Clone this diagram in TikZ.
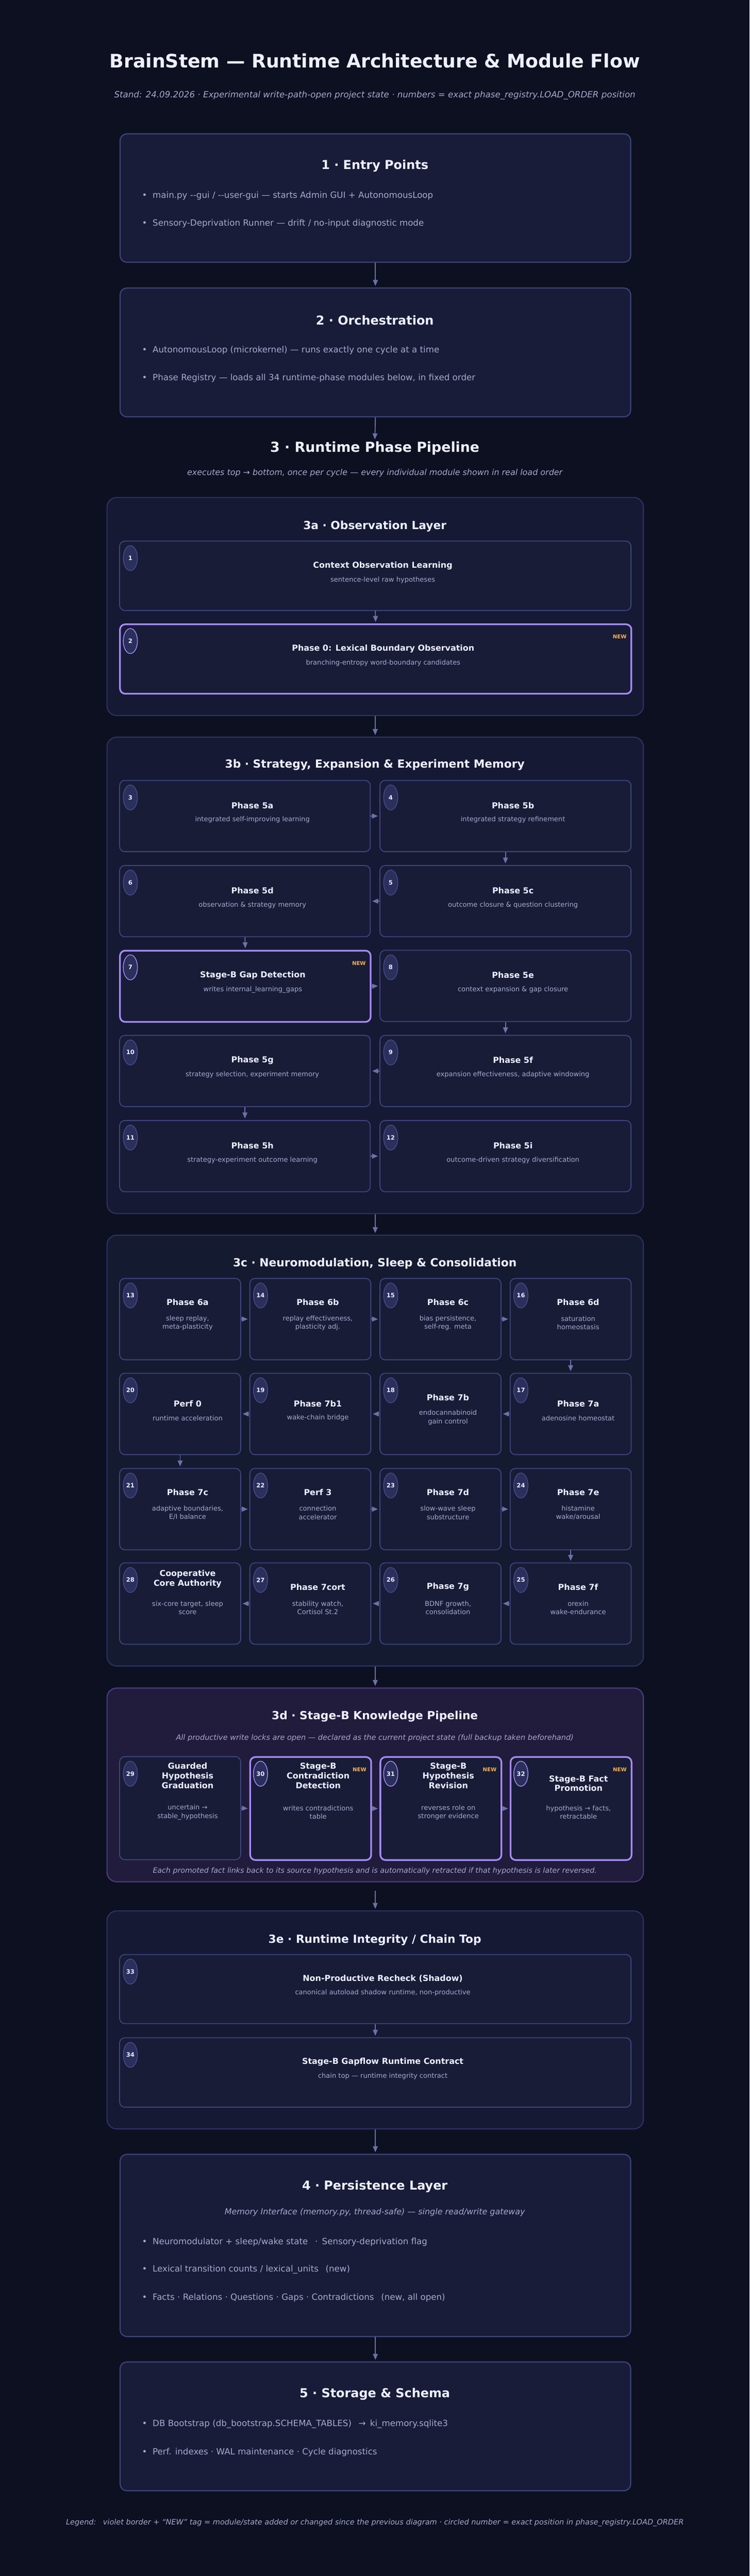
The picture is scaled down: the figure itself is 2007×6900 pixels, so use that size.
\documentclass[tikz,border=0pt]{standalone}
\usepackage{fontspec}
\setmainfont{DejaVu Sans}
\usetikzlibrary{arrows.meta,shapes.geometric}

\definecolor{bgc}{HTML}{0C1021}
\definecolor{secfill}{HTML}{181C38}
\definecolor{secline}{HTML}{3D4479}
\definecolor{contfill}{HTML}{151934}
\definecolor{contline}{HTML}{2C3163}
\definecolor{neurofill}{HTML}{141A30}
\definecolor{kfill}{HTML}{211B3C}
\definecolor{kline}{HTML}{4B3C82}
\definecolor{boxfill}{HTML}{181C37}
\definecolor{boxline}{HTML}{3E457E}
\definecolor{violetc}{HTML}{A78BFA}
\definecolor{badgefill}{HTML}{2A2F5C}
\definecolor{badgeline}{HTML}{454C88}
\definecolor{titlec}{HTML}{EEF0FF}
\definecolor{subc}{HTML}{A6ABCF}
\definecolor{newc}{HTML}{FBB04A}
\definecolor{arrowc}{HTML}{6B72A8}

\newcommand\bsMain{\bfseries\fontsize{50}{60}\selectfont}
\newcommand\bsSec{\bfseries\fontsize{33}{40}\selectfont}
\newcommand\bsHead{\bfseries\fontsize{37}{44}\selectfont}
\newcommand\bsCont{\bfseries\fontsize{30}{36}\selectfont}
\newcommand\bsBox{\bfseries\fontsize{22}{26}\selectfont}
\newcommand\bsSub{\fontsize{18}{23}\selectfont}
\newcommand\bsBul{\fontsize{23}{28}\selectfont}
\newcommand\bsItal{\itshape\fontsize{23}{28}\selectfont}
\newcommand\bsItalM{\itshape\fontsize{22}{27}\selectfont}
\newcommand\bsItalS{\itshape\fontsize{20}{24}\selectfont}
\newcommand\bsNum{\bfseries\fontsize{16}{19}\selectfont}
\newcommand\bsNew{\bfseries\fontsize{14}{17}\selectfont}

\tikzset{
  secbox/.style={draw=secline, line width=3pt, fill=secfill, rounded corners=18pt, inner sep=0pt, anchor=north west},
  contbox/.style={draw=contline, line width=3pt, fill=contfill, rounded corners=26pt, inner sep=0pt, anchor=north west},
  neurobox/.style={contbox, fill=neurofill},
  kbox/.style={contbox, draw=kline, fill=kfill},
  pbox/.style={draw=boxline, line width=2.5pt, fill=boxfill, rounded corners=14pt, inner sep=0pt, anchor=north west},
  vbox/.style={pbox, draw=violetc, line width=4.5pt},
  badge/.style={ellipse, draw=badgeline, line width=2pt, fill=badgefill, minimum width=38pt, minimum height=67pt, inner sep=0pt, text=titlec, font=\bsNum},
  vbadge/.style={badge, draw=violetc},
  ttl/.style={text=titlec, font=\bsBox, align=center, inner sep=0pt},
  subtxt/.style={text=subc, font=\bsSub, align=center, inner sep=0pt},
  newtag/.style={text=newc, font=\bsNew, anchor=east, inner sep=0pt},
  bul/.style={text=subc, font=\bsBul, anchor=west, inner sep=0pt},
  sectitle/.style={text=titlec, font=\bsSec, inner sep=0pt},
  conttitle/.style={text=titlec, font=\bsCont, inner sep=0pt},
  itnote/.style={text=subc, font=\bsItal, inner sep=0pt},
  itnotem/.style={text=subc, font=\bsItalM, inner sep=0pt},
  itnotes/.style={text=subc, font=\bsItalS, inner sep=0pt},
  flow/.style={draw=arrowc, line width=2.5pt, shorten >=4pt, -{Triangle[length=16pt,width=13pt]}},
}

\newcommand\mkbox[6]{\node[#2, minimum width=#5pt, minimum height=#6pt] (#1) at (#3,#4) {};}
\newcommand\mkbadge[3]{\node[#3] (#1n) at ([xshift=30pt,yshift=-47pt]#1.north west) {#2};}
\newcommand\mkttl[3]{\node[ttl] (#1t) at ([xshift=20pt,yshift=-#2pt]#1.north) {#3};}
\newcommand\mksub[3]{\node[subtxt] (#1s) at ([xshift=20pt,yshift=-#2pt]#1.north) {#3};}
\newcommand\mknew[1]{\node[newtag] (#1w) at ([xshift=-15pt,yshift=-36pt]#1.north east) {NEW};}

\begin{document}
\begin{tikzpicture}[x=1pt,y=-1pt]
\fill[bgc] (0,0) rectangle (2007,6900);
\useasboundingbox (0,0) rectangle (2007,6900);

% ---------- header ----------
\node[text=titlec, font=\bsMain, inner sep=0pt] (title) at (1003.5,163) {BrainStem — Runtime Architecture \& Module Flow};
\node[itnote] (subtitle) at (1003.5,255) {Stand: 24.09.2026 · Experimental write-path-open project state · numbers = exact phase\_registry.LOAD\_ORDER position};

% ---------- 1 ----------
\mkbox{s1}{secbox}{320}{357}{1367}{344}
\node[sectitle] (s1t) at (1003.5,445) {1 · Entry Points};
\node[bul] (s1a) at (380,524) {•\hskip15pt main.py -{}-gui / -{}-user-gui — starts Admin GUI + AutonomousLoop};
\node[bul] (s1b) at (380,599) {•\hskip15pt Sensory-Deprivation Runner — drift / no-input diagnostic mode};

% ---------- 2 ----------
\mkbox{s2}{secbox}{320}{770}{1367}{345}
\node[sectitle] (s2t) at (1003.5,858) {2 · Orchestration};
\node[bul] (s2a) at (380,938) {•\hskip15pt AutonomousLoop (microkernel) — runs exactly one cycle at a time};
\node[bul] (s2b) at (380,1013) {•\hskip15pt Phase Registry — loads all 34 runtime-phase modules below, in fixed order};

% ---------- 3 heading ----------
\coordinate (h3in) at (1003.5,1181);
\node[text=titlec, font=\bsHead, inner sep=0pt] (h3) at (1003.5,1201) {3 · Runtime Phase Pipeline};
\node[itnotem] (h3s) at (1003.5,1267) {executes top → bottom, once per cycle — every individual module shown in real load order};

% ---------- 3a ----------
\mkbox{c3a}{contbox}{285}{1331}{1436}{584}
\node[conttitle] (c3at) at (1003.5,1410) {3a · Observation Layer};
\mkbox{p1}{pbox}{319}{1448}{1369}{186}
\mkbadge{p1}{1}{badge}
\mkttl{p1}{67}{Context Observation Learning}
\mksub{p1}{106}{sentence-level raw hypotheses}
\mkbox{p2}{vbox}{319}{1670}{1369}{186}
\mkbadge{p2}{2}{vbadge}
\mkttl{p2}{67}{Phase 0: Lexical Boundary Observation}
\mksub{p2}{106}{branching-entropy word-boundary candidates}
\mknew{p2}

% ---------- 3b ----------
\mkbox{c3b}{contbox}{285}{1973}{1436}{1276}
\node[conttitle] (c3bt) at (1003.5,2049) {3b · Strategy, Expansion \& Experiment Memory};
\mkbox{b3}{pbox}{319}{2089}{671}{191}\mkbadge{b3}{3}{badge}\mkttl{b3}{68}{Phase 5a}\mksub{b3}{107}{integrated self-improving learning}
\mkbox{b4}{pbox}{1016}{2089}{672}{191}\mkbadge{b4}{4}{badge}\mkttl{b4}{68}{Phase 5b}\mksub{b4}{107}{integrated strategy refinement}
\mkbox{b6}{pbox}{319}{2317}{671}{191}\mkbadge{b6}{6}{badge}\mkttl{b6}{68}{Phase 5d}\mksub{b6}{107}{observation \& strategy memory}
\mkbox{b5}{pbox}{1016}{2317}{672}{191}\mkbadge{b5}{5}{badge}\mkttl{b5}{68}{Phase 5c}\mksub{b5}{107}{outcome closure \& question clustering}
\mkbox{b7}{vbox}{319}{2544}{671}{191}\mkbadge{b7}{7}{vbadge}\mkttl{b7}{68}{Stage-B Gap Detection}\mksub{b7}{107}{writes internal\_learning\_gaps}\mknew{b7}
\mkbox{b8}{pbox}{1016}{2544}{672}{191}\mkbadge{b8}{8}{badge}\mkttl{b8}{68}{Phase 5e}\mksub{b8}{107}{context expansion \& gap closure}
\mkbox{b10}{pbox}{319}{2772}{671}{191}\mkbadge{b10}{10}{badge}\mkttl{b10}{68}{Phase 5g}\mksub{b10}{107}{strategy selection, experiment memory}
\mkbox{b9}{pbox}{1016}{2772}{672}{191}\mkbadge{b9}{9}{badge}\mkttl{b9}{68}{Phase 5f}\mksub{b9}{107}{expansion effectiveness, adaptive windowing}
\mkbox{b11}{pbox}{319}{3000}{671}{191}\mkbadge{b11}{11}{badge}\mkttl{b11}{68}{Phase 5h}\mksub{b11}{107}{strategy-experiment outcome learning}
\mkbox{b12}{pbox}{1016}{3000}{672}{191}\mkbadge{b12}{12}{badge}\mkttl{b12}{68}{Phase 5i}\mksub{b12}{107}{outcome-driven strategy diversification}

% ---------- 3c ----------
\mkbox{c3c}{neurobox}{285}{3307}{1436}{1154}
\node[conttitle] (c3ct) at (1003.5,3385) {3c · Neuromodulation, Sleep \& Consolidation};
\mkbox{c13}{pbox}{319}{3423}{324}{218}\mkbadge{c13}{13}{badge}\mkttl{c13}{65}{Phase 6a}\mksub{c13}{120.5}{sleep replay,\\meta-plasticity}
\mkbox{c14}{pbox}{667.5}{3423}{324}{218}\mkbadge{c14}{14}{badge}\mkttl{c14}{65}{Phase 6b}\mksub{c14}{120.5}{replay effectiveness,\\plasticity adj.}
\mkbox{c15}{pbox}{1016}{3423}{324}{218}\mkbadge{c15}{15}{badge}\mkttl{c15}{65}{Phase 6c}\mksub{c15}{120.5}{bias persistence,\\self-reg. meta}
\mkbox{c16}{pbox}{1364.5}{3423}{324}{218}\mkbadge{c16}{16}{badge}\mkttl{c16}{65}{Phase 6d}\mksub{c16}{120.5}{saturation\\homeostasis}
\mkbox{c20}{pbox}{319}{3677}{324}{218}\mkbadge{c20}{20}{badge}\mkttl{c20}{83}{Perf 0}\mksub{c20}{121}{runtime acceleration}
\mkbox{c19}{pbox}{667.5}{3677}{324}{218}\mkbadge{c19}{19}{badge}\mkttl{c19}{83}{Phase 7b1}\mksub{c19}{121}{wake-chain bridge}
\mkbox{c18}{pbox}{1016}{3677}{324}{218}\mkbadge{c18}{18}{badge}\mkttl{c18}{66}{Phase 7b}\mksub{c18}{120}{endocannabinoid\\gain control}
\mkbox{c17}{pbox}{1364.5}{3677}{324}{218}\mkbadge{c17}{17}{badge}\mkttl{c17}{83}{Phase 7a}\mksub{c17}{121}{adenosine homeostat}
\mkbox{c21}{pbox}{319}{3932}{324}{218}\mkbadge{c21}{21}{badge}\mkttl{c21}{65}{Phase 7c}\mksub{c21}{120}{adaptive boundaries,\\E/I balance}
\mkbox{c22}{pbox}{667.5}{3932}{324}{218}\mkbadge{c22}{22}{badge}\mkttl{c22}{65}{Perf 3}\mksub{c22}{120}{connection\\accelerator}
\mkbox{c23}{pbox}{1016}{3932}{324}{218}\mkbadge{c23}{23}{badge}\mkttl{c23}{65}{Phase 7d}\mksub{c23}{120}{slow-wave sleep\\substructure}
\mkbox{c24}{pbox}{1364.5}{3932}{324}{218}\mkbadge{c24}{24}{badge}\mkttl{c24}{65}{Phase 7e}\mksub{c24}{120}{histamine\\wake/arousal}
\mkbox{c28}{pbox}{319}{4185}{324}{218}\mkbadge{c28}{28}{badge}\mkttl{c28}{44}{Cooperative\\Core Authority}\mksub{c28}{121.5}{six-core target, sleep\\score}
\mkbox{c27}{pbox}{667.5}{4185}{324}{218}\mkbadge{c27}{27}{badge}\mkttl{c27}{66}{Phase 7cort}\mksub{c27}{121.5}{stability watch,\\Cortisol St.2}
\mkbox{c26}{pbox}{1016}{4185}{324}{218}\mkbadge{c26}{26}{badge}\mkttl{c26}{66}{Phase 7g}\mksub{c26}{121.5}{BDNF growth,\\consolidation}
\mkbox{c25}{pbox}{1364.5}{4185}{324}{218}\mkbadge{c25}{25}{badge}\mkttl{c25}{66}{Phase 7f}\mksub{c25}{121.5}{orexin\\wake-endurance}

% ---------- 3d ----------
\mkbox{c3d}{kbox}{285}{4520}{1436}{519}
\node[conttitle] (c3dt) at (1003.5,4597) {3d · Stage-B Knowledge Pipeline};
\node[itnotes] (c3ds) at (1003.5,4656) {All productive write locks are open — declared as the current project state (full backup taken beforehand)};
\mkbox{d29}{pbox}{319}{4704}{324}{276}\mkbadge{d29}{29}{badge}\mkttl{d29}{52}{Guarded\\Hypothesis\\Graduation}\mksub{d29}{150.5}{uncertain →\\stable\_hypothesis}
\mkbox{d30}{vbox}{667.5}{4704}{324}{276}\mkbadge{d30}{30}{vbadge}\mkttl{d30}{52}{Stage-B\\Contradiction\\Detection}\mksub{d30}{150.5}{writes contradictions\\table}\mknew{d30}
\mkbox{d31}{vbox}{1016}{4704}{324}{276}\mkbadge{d31}{31}{vbadge}\mkttl{d31}{52}{Stage-B\\Hypothesis\\Revision}\mksub{d31}{150.5}{reverses role on\\stronger evidence}\mknew{d31}
\mkbox{d32}{vbox}{1364.5}{4704}{324}{276}\mkbadge{d32}{32}{vbadge}\mkttl{d32}{73}{Stage-B Fact\\Promotion}\mksub{d32}{150.5}{hypothesis → facts,\\retractable}\mknew{d32}
\node[itnotes, font=\itshape\fontsize{19.6}{23}\selectfont] (c3df) at (1003.5,5011) {Each promoted fact links back to its source hypothesis and is automatically retracted if that hypothesis is later reversed.};

% ---------- 3e ----------
\mkbox{c3e}{contbox}{285}{5117}{1436}{584}
\node[conttitle] (c3et) at (1003.5,5196) {3e · Runtime Integrity / Chain Top};
\mkbox{e33}{pbox}{319}{5234}{1369}{185}
\mkbadge{e33}{33}{badge}
\mkttl{e33}{66}{Non-Productive Recheck (Shadow)}
\mksub{e33}{104}{canonical autoload shadow runtime, non-productive}
\mkbox{e34}{pbox}{319}{5457}{1369}{186}
\mkbadge{e34}{34}{badge}
\mkttl{e34}{66}{Stage-B Gapflow Runtime Contract}
\mksub{e34}{104}{chain top — runtime integrity contract}

% ---------- 4 ----------
\mkbox{s4}{secbox}{320}{5769}{1367}{488}
\node[sectitle] (s4t) at (1003.5,5857) {4 · Persistence Layer};
\node[itnotem] (s4s) at (1003.5,5926) {Memory Interface (memory.py, thread-safe) — single read/write gateway};
\node[bul] (s4a) at (380,6006) {•\hskip15pt Neuromodulator + sleep/wake state \enspace·\enspace Sensory-deprivation flag};
\node[bul] (s4b) at (380,6079) {•\hskip15pt Lexical transition counts / lexical\_units \enspace(new)};
\node[bul] (s4c) at (380,6154) {•\hskip15pt Facts · Relations · Questions · Gaps · Contradictions \enspace(new, all open)};

% ---------- 5 ----------
\mkbox{s5}{secbox}{320}{6325}{1367}{345}
\node[sectitle] (s5t) at (1003.5,6413) {5 · Storage \& Schema};
\node[bul] (s5a) at (380,6493) {•\hskip15pt DB Bootstrap (db\_bootstrap.SCHEMA\_TABLES) \enspace→\enspace ki\_memory.sqlite3};
\node[bul] (s5b) at (380,6568) {•\hskip15pt Perf. indexes · WAL maintenance · Cycle diagnostics};

\node[itnotes] (legend) at (1003.5,6758) {Legend: \enspace violet border + “NEW” tag = module/state added or changed since the previous diagram · circled number = exact position in phase\_registry.LOAD\_ORDER};

% ---------- connectors ----------
\draw[flow] (s1.south) -- (s2.north);
\draw[flow] (s2.south) -- (h3in);
\draw[flow] (c3a.south) -- (c3b.north);
\draw[flow] (c3b.south) -- (c3c.north);
\draw[flow] (c3c.south) -- (c3d.north);
\draw[flow, shorten <=22pt] (c3d.south) -- (c3e.north);
\draw[flow] (c3e.south) -- (s4.north);
\draw[flow] (s4.south) -- (s5.north);

\draw[flow] (p1.south) -- (p2.north);

\draw[flow] (b3.east) -- (b4.west);
\draw[flow] (b4.south) -- (b5.north);
\draw[flow] (b5.west) -- (b6.east);
\draw[flow] (b6.south) -- (b7.north);
\draw[flow] (b7.east) -- (b8.west);
\draw[flow] (b8.south) -- (b9.north);
\draw[flow] (b9.west) -- (b10.east);
\draw[flow] (b10.south) -- (b11.north);
\draw[flow] (b11.east) -- (b12.west);

\draw[flow] (c13.east) -- (c14.west);
\draw[flow] (c14.east) -- (c15.west);
\draw[flow] (c15.east) -- (c16.west);
\draw[flow] (c16.south) -- (c17.north);
\draw[flow] (c17.west) -- (c18.east);
\draw[flow] (c18.west) -- (c19.east);
\draw[flow] (c19.west) -- (c20.east);
\draw[flow] (c20.south) -- (c21.north);
\draw[flow] (c21.east) -- (c22.west);
\draw[flow] (c22.east) -- (c23.west);
\draw[flow] (c23.east) -- (c24.west);
\draw[flow] (c24.south) -- (c25.north);
\draw[flow] (c25.west) -- (c26.east);
\draw[flow] (c26.west) -- (c27.east);
\draw[flow] (c27.west) -- (c28.east);

\draw[flow] (d29.east) -- (d30.west);
\draw[flow] (d30.east) -- (d31.west);
\draw[flow] (d31.east) -- (d32.west);

\draw[flow] (e33.south) -- (e34.north);
\end{tikzpicture}
\end{document}
